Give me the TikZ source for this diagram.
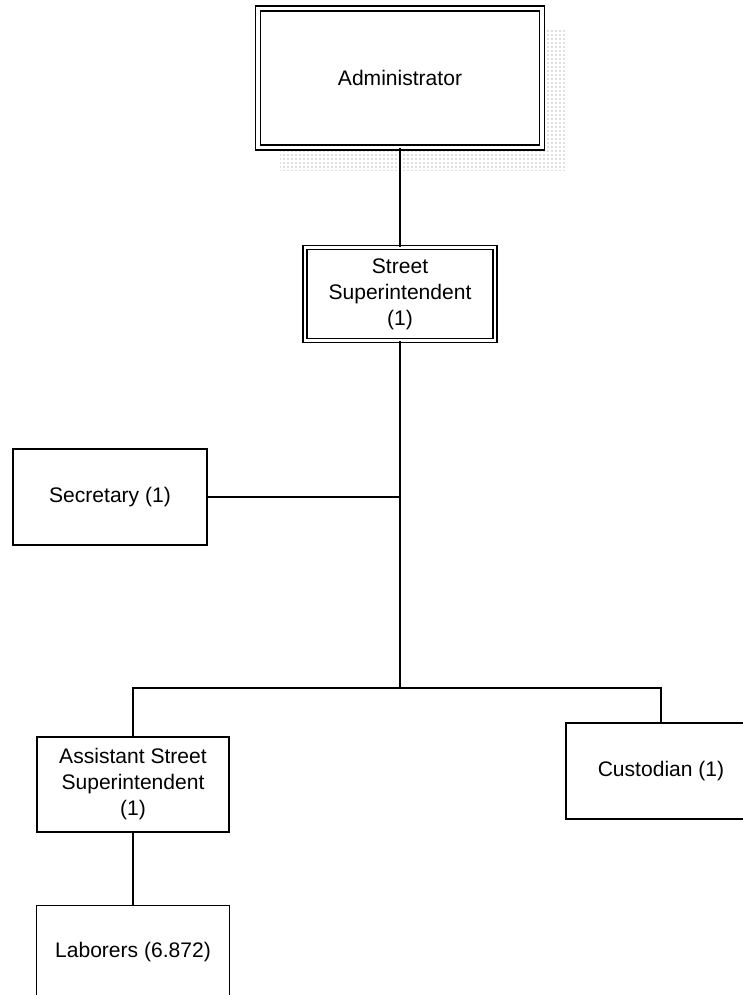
\documentclass[tikz,border=0pt]{standalone}
\usepackage{fontspec}
\setmainfont{Liberation Sans}
\usetikzlibrary{positioning,calc,backgrounds,patterns}

\begin{document}
\begin{tikzpicture}[x=0.75pt, y=-0.75pt, line width=1.2pt,
box/.style={draw, fill=white, align=center, inner sep=0pt, font=\fontsize{15.8}{19.5}\selectfont},
dbox/.style={box, double, double distance=1.9pt}
]
\useasboundingbox (0,0) rectangle (742,995);

\node (admin) [dbox, double distance=2.6pt, minimum width=213pt, minimum height=104pt] at (400,78) {Administrator};
\node (super) [dbox, minimum width=142.5pt, minimum height=69.75pt, below=74pt of admin] {Street\\ Superintendent\\ (1)};
\node (sec) [box, minimum width=145.5pt, minimum height=72pt] at (110,497) {Secretary (1)};
\node (asst) [box, minimum width=144pt, minimum height=71.25pt] at (133,784.5) {Assistant Street\\ Superintendent\\ (1)};
\node (cust) [box, minimum width=142.5pt, minimum height=72pt] at (661,771) {Custodian (1)};
\node (lab) [box, minimum width=145pt, minimum height=69pt, below=54pt of asst] {Laborers (6.872)};
\coordinate (bus) at (400,688);

% stippled shadow
\begin{scope}[on background layer]
\fill[pattern=dots, pattern color=gray!90!black] ($(admin.north west)+(23,22)$) rectangle ($(admin.south east)+(23,22)$);
\end{scope}

\draw (admin) -- (super);
\draw (super) -- (bus);
\draw (sec.east) -- (sec.east -| bus);
\draw (asst.north) |- (bus) -| (cust.north);
\draw (asst) -- (lab);

\end{tikzpicture}
\end{document}
